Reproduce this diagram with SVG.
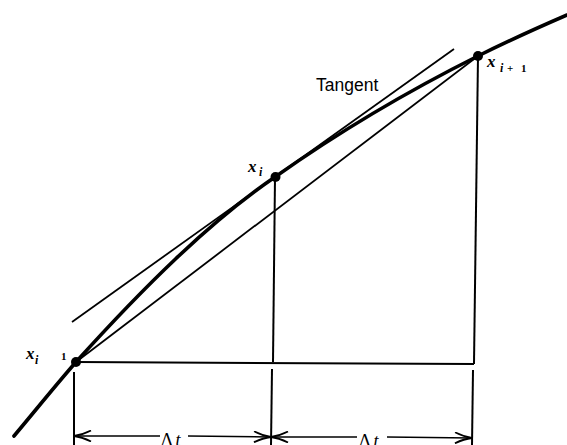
<svg xmlns="http://www.w3.org/2000/svg" width="567" height="445" viewBox="0 0 567 445">
<style>
.curve{fill:none;stroke:#000;stroke-width:3.6;stroke-linecap:round}
.thin{fill:none;stroke:#000;stroke-width:1.8}
.ord{fill:none;stroke:#000;stroke-width:2}
.dim{fill:none;stroke:#000;stroke-width:1.6}
.var{font-family:"Liberation Serif",serif;font-style:italic;font-weight:bold;font-size:17px;fill:#000}
.sub{font-family:"Liberation Serif",serif;font-style:italic;font-weight:bold;font-size:12px;fill:#000}
.num{font-family:"Liberation Serif",serif;font-weight:bold;font-size:11px;fill:#000}
.lbl{font-family:"Liberation Sans",Arial,sans-serif;font-size:17.5px;fill:#000}
.dt{font-family:"Liberation Serif",serif;font-size:18px;fill:#000}
</style>
<defs>
<marker id="arr" viewBox="0 0 18 12" refX="18" refY="6" markerWidth="18" markerHeight="12" markerUnits="userSpaceOnUse" orient="auto-start-reverse">
<path d="M1,0.5 Q10,5 18,6 Q10,7 1,11.5" fill="none" stroke="#000" stroke-width="1.8"/>
</marker>
</defs>
<g id="connectors">
<path id="curve" class="curve" d="M14,436 C35,411 55,386 76,362 C142,289 209,222 275,177 C343,129 410,90 478,56 C508,41 537,28 567,15"/>
<line id="tangent" class="thin" x1="72" y1="322" x2="454" y2="49"/>
<line id="secant" class="thin" x1="76" y1="362" x2="478" y2="56"/>
<line class="ord" x1="275" y1="177" x2="273" y2="362"/>
<line class="ord" x1="478" y1="56" x2="474" y2="364"/>
<line class="ord" x1="76" y1="362" x2="474" y2="364"/>
<line class="ord" x1="74" y1="372" x2="74" y2="445"/>
<line class="ord" x1="272" y1="369" x2="271" y2="445"/>
<line class="ord" x1="473" y1="370" x2="472" y2="445"/>
<line class="dim" x1="74" y1="436" x2="160" y2="436" marker-start="url(#arr)"/>
<line class="dim" x1="188" y1="436" x2="271" y2="437" marker-end="url(#arr)"/>
<line class="dim" x1="271" y1="437" x2="357" y2="437" marker-start="url(#arr)"/>
<line class="dim" x1="387" y1="437" x2="472" y2="438" marker-end="url(#arr)"/>
</g>
<g id="p-im1">
<circle cx="76" cy="362" r="5"/>
<text class="var" x="26" y="359">x</text>
<text class="sub" x="35" y="364">i</text>
<text class="num" x="61" y="360">1</text>
</g>
<g id="p-i">
<circle cx="275.5" cy="177" r="5"/>
<text class="var" x="248" y="172">x</text>
<text class="sub" x="259" y="176">i</text>
</g>
<g id="p-ip1">
<circle cx="478" cy="56" r="5"/>
<text class="var" x="487" y="67">x</text>
<text class="sub" x="500" y="72">i</text>
<text class="num" x="507" y="72">+</text>
<text class="num" x="521" y="72">1</text>
</g>
<g id="tangent-label">
<text class="lbl" x="316" y="91">Tangent</text>
</g>
<g id="dt1">
<text class="dt" x="161" y="446">Δ<tspan font-style="italic" dx="3">t</tspan></text>
</g>
<g id="dt2">
<text class="dt" x="359" y="447">Δ<tspan font-style="italic" dx="3">t</tspan></text>
</g>
</svg>
